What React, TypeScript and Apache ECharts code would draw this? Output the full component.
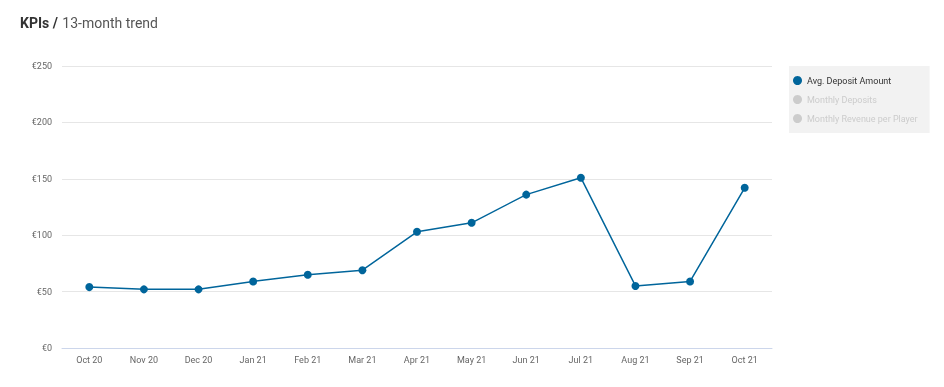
import React, { useEffect, useRef } from "react";
import * as echarts from "echarts";

const months = ["Oct 20", "Nov 20", "Dec 20", "Jan 21", "Feb 21", "Mar 21", "Apr 21", "May 21", "Jun 21", "Jul 21", "Aug 21", "Sep 21", "Oct 21"];
const avgDeposit = [54, 52, 52, 59, 65, 69, 103, 111, 136, 151, 55, 59, 142];
const monthlyDeposits: number[] = [];
const revenuePerPlayer: number[] = [];
const seriesNames = ["Avg. Deposit Amount", "Monthly Deposits", "Monthly Revenue per Player"];

export default function App() {
  const ref = useRef<HTMLDivElement>(null);
  useEffect(() => {
    if (!ref.current) return;
    const chart = echarts.init(ref.current, undefined, { renderer: "svg" });
    chart.setOption({
      animation: false,
      textStyle: { fontFamily: "Roboto" },
      title: {
        left: 15,
        top: 9,
        text: "{b|KPIs /} {n|13-month trend}",
        textStyle: {
          fontWeight: "normal",
          rich: {
            b: { fontSize: 14, fontWeight: "bold", color: "#333", fontFamily: "Roboto" },
            n: { fontSize: 14, fontWeight: "normal", color: "#555", fontFamily: "Roboto" },
          },
        },
      },
      legend: {
        orient: "vertical",
        left: 789,
        top: 66,
        width: 141,
        backgroundColor: "#f2f2f2",
        padding: [10, 12, 10, 4],
        itemGap: 10,
        itemTextGap: 8,
        icon: "circle",
        itemWidth: 9,
        itemHeight: 9,
        inactiveColor: "#cccccc",
        textStyle: { fontSize: 9, color: "#333" },
        data: seriesNames,
        selected: { [seriesNames[0]]: true, [seriesNames[1]]: false, [seriesNames[2]]: false },
      },
      grid: { left: 62, right: 172, top: 66, bottom: 39 },
      xAxis: {
        type: "category",
        data: months,
        boundaryGap: true,
        axisLine: { lineStyle: { color: "#ccd6eb" } },
        axisTick: { alignWithLabel: true, length: 6, lineStyle: { color: "#ccd6eb" } },
        axisLabel: { color: "#666", fontSize: 9, margin: 7 },
      },
      yAxis: {
        type: "value",
        min: 0,
        max: 250,
        interval: 50,
        axisLabel: { color: "#666", fontSize: 9, margin: 10, formatter: (v: number) => "€" + v },
        splitLine: { lineStyle: { color: "#e6e6e6" } },
      },
      series: [
        {
          name: seriesNames[0],
          type: "line",
          data: avgDeposit,
          color: "#00659b",
          symbol: "circle",
          symbolSize: 8,
          lineStyle: { width: 1.5 },
        },
        { name: seriesNames[1], type: "line", data: monthlyDeposits },
        { name: seriesNames[2], type: "line", data: revenuePerPlayer },
      ],
    });
    return () => chart.dispose();
  }, []);
  return <div ref={ref} style={{ position: "fixed", left: 0, top: 0, width: 944, height: 387 }} />;
}
